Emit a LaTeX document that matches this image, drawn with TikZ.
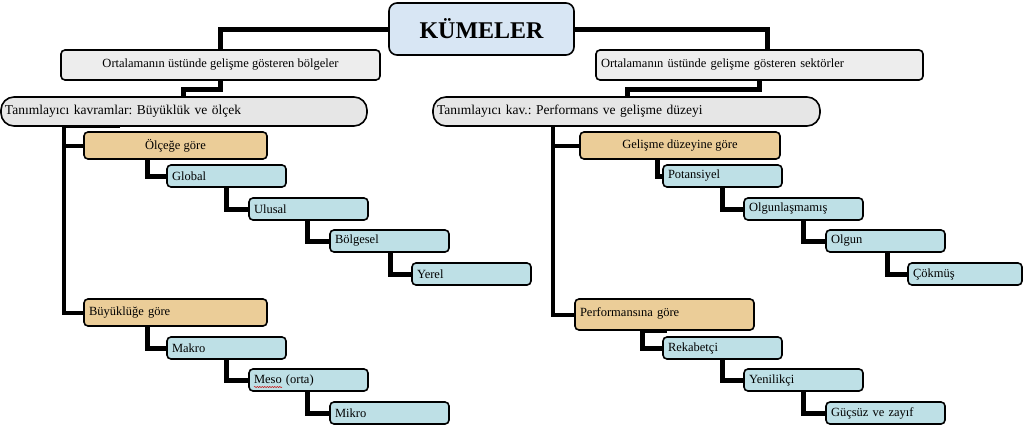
\documentclass[tikz,border=0pt]{standalone}
\usepackage{fontspec}
\setmainfont{Liberation Serif}
\frenchspacing
\usetikzlibrary{calc,backgrounds,decorations.pathmorphing}
\definecolor{kumfill}{HTML}{D8E6F4}
\definecolor{ortfill}{HTML}{EDEDED}
\definecolor{tanimfill}{HTML}{E6E6E6}
\definecolor{tanfill}{HTML}{EBCD98}
\definecolor{bluefill}{HTML}{BEE0E6}
\tikzset{
  box/.style={draw=black, line width=1.6pt, rounded corners=4pt, anchor=north west,
    inner sep=0pt, outer sep=0pt, font=\fontsize{12.5}{14}\selectfont},
  bluebox/.style={box, fill=bluefill, minimum height=22pt, text width=109pt,
    inner xsep=5pt, align=left},
  tanboxc/.style={box, fill=tanfill, minimum height=27pt, align=center},
  tanboxl/.style={box, fill=tanfill, inner xsep=5pt, align=left},
  ortbox/.style={box, fill=ortfill, minimum height=30pt},
  tanimbox/.style={box, fill=tanimfill, rounded corners=13pt, minimum height=29pt,
    inner xsep=4pt, align=left, font=\fontsize{13.5}{15}\selectfont},
  conn/.style={line width=5pt, line join=miter, draw=black},
  spine/.style={line width=4pt, line join=miter, draw=black},
}
\begin{document}
\begin{tikzpicture}[x=1pt,y=-1pt]
\useasboundingbox (0,0) rectangle (1024,431);
% top
\node[box, fill=kumfill, rounded corners=8pt, minimum width=185pt, minimum height=52pt,
  font=\fontsize{24}{27}\bfseries\selectfont] (kum) at (389,3) {KÜMELER};
\node[ortbox, minimum width=319pt] (ortL) at (61,50) {Ortalamanın üstünde gelişme gösteren bölgeler};
\node[ortbox, text width=317pt, inner xsep=5pt, align=left] (ortR) at (596,50) {Ortalamanın üstünde gelişme gösteren sektörler};
\node[tanimbox, text width=358pt] (tanL) at (1,97) {\raisebox{-3pt}{Tanımlayıcı kavramlar: Büyüklük ve ölçek}};
\node[tanimbox, text width=379pt] (tanR) at (433,97) {\raisebox{-3pt}{Tanımlayıcı kav.: Performans ve gelişme düzeyi}};
% left branch
\node[tanboxc, minimum width=183pt] (olc) at (84,132) {Ölçeğe göre};
\node[bluebox] (glob) at (167,165) {Global};
\node[bluebox] (ulus) at (249,198) {Ulusal};
\node[bluebox] (bolg) at (330,230) {Bölgesel};
\node[bluebox] (yer) at (412,263) {Yerel};
\node[tanboxl, minimum height=27pt, text width=173pt] (buy) at (84,299) {Büyüklüğe göre};
\node[bluebox] (mak) at (167,337) {Makro};
\node[bluebox] (mes) at (249,369) {Meso (orta)};
\node[bluebox] (mik) at (330,402) {Mikro};
% right branch
\node[tanboxc, minimum width=200pt] (gel) at (580,132) {Gelişme düzeyine göre};
\node[bluebox] (pot) at (663,165) {Potansiyel};
\node[bluebox] (olgm) at (744,198) {Olgunlaşmamış};
\node[bluebox] (olg) at (826,230) {Olgun};
\node[bluebox, text width=104pt] (cok) at (908,263) {Çökmüş};
\node[tanboxl, minimum height=31pt, text width=169pt] (perf) at (575,299) {\raisebox{4pt}{Performansına göre}};
\node[bluebox] (rek) at (663,337) {Rekabetçi};
\node[bluebox] (yen) at (744,369) {Yenilikçi};
\node[bluebox] (guc) at (826,402) {Güçsüz ve zayıf};
% spell-check underline
\draw[red!80!black, line width=0.5pt, decorate, decoration={snake, amplitude=0.6pt, segment length=2.5pt}]
  ($(mes.south west)+(5,-4)$) -- ($(mes.south west)+(33,-4)$);
\begin{scope}[on background layer]
  \draw[conn] (kum.west) -| (ortL.north);
  \draw[conn] (kum.east) -| ($(ortR.north)+(8,0)$);
  \draw[conn] (ortL.south) -- ++(0,9) -| ($(tanL.north west)+(182,0)$);
  \draw[conn] (ortR.south) -- ++(0,9) -| ($(tanR.north west)+(194,0)$);
  % left spine
  \draw[spine] ($(tanL.south west)+(119,0)$) -- ($(tanL.south west)+(63,0)$) coordinate (sL) |- (buy.west);
  \draw[spine] (sL |- olc.west) -- (olc.west);
  \draw[conn] ($(olc.south west)+(63,0)$) |- (glob.west);
  \draw[conn] ($(glob.south west)+(59,0)$) |- (ulus.west);
  \draw[conn] ($(ulus.south west)+(58,0)$) |- (bolg.west);
  \draw[conn] ($(bolg.south west)+(60,0)$) |- (yer.west);
  \draw[conn] ($(buy.south west)+(63,0)$) |- (mak.west);
  \draw[conn] ($(mak.south west)+(59,0)$) |- (mes.west);
  \draw[conn] ($(mes.south west)+(58,0)$) |- (mik.west);
  % right spine
  \coordinate (sR) at ($(tanR.south west)+(120,0)$);
  \draw[spine] (sR) |- (perf.west);
  \draw[spine] (sR |- gel.west) -- (gel.west);
  \draw[conn] ($(gel.south west)+(77,0)$) |- (pot.west);
  \draw[conn] ($(pot.south west)+(59,0)$) |- (olgm.west);
  \draw[conn] ($(olgm.south west)+(59,0)$) |- (olg.west);
  \draw[conn] ($(olg.south west)+(61,0)$) |- (cok.west);
  \draw[conn] ($(perf.south west)+(92,0)$) -- ($(perf.south west)+(67,0)$) |- (rek.west);
  \draw[conn] ($(rek.south west)+(59,0)$) |- (yen.west);
  \draw[conn] ($(yen.south west)+(59,0)$) |- (guc.west);
\end{scope}
\end{tikzpicture}
\end{document}
